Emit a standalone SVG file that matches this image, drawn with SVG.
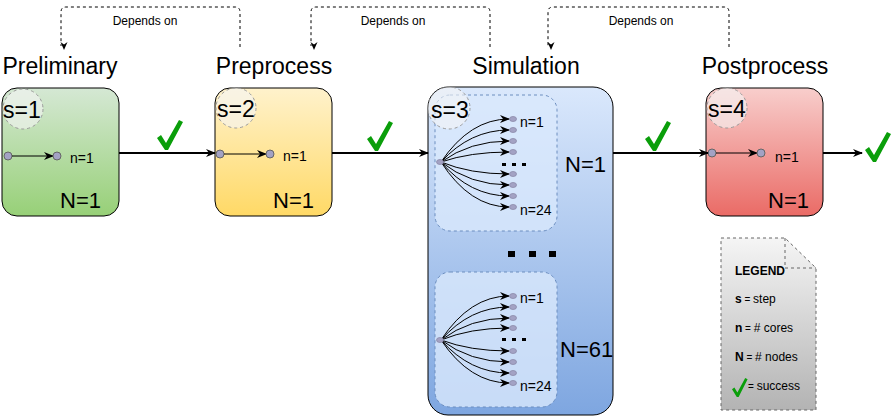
<svg xmlns="http://www.w3.org/2000/svg" width="891" height="418" viewBox="0 0 891 418">
<style>
text{font-family:"Liberation Sans",Arial,sans-serif;fill:#000}
.title{font-size:23px;text-anchor:middle}
.big{font-size:22px}
.s{font-size:23px}
.n{font-size:14px}
.nf{font-size:14px}
.dep{font-size:12px;text-anchor:middle}
.box{stroke:#000;stroke-width:1}
.circ{fill:#f5f5f5;fill-opacity:0.6;stroke:#999;stroke-dasharray:3,3}
.inner{fill:#dae8fc;fill-opacity:0.8;stroke:#6c8ebf;stroke-dasharray:3,3}
.dot{fill:#a3a2c4;stroke:#666;stroke-width:1}
.fdot{fill:#a3a2c4;stroke:#8a89a8;stroke-width:0.8}
.main{fill:none;stroke:#000;stroke-width:2;marker-end:url(#arr)}
.thin{fill:none;stroke:#000;stroke-width:1;marker-end:url(#arrs)}
.dash{fill:none;stroke:#000;stroke-width:1;stroke-dasharray:3,3;marker-end:url(#arrd)}
.chk{fill:#0a9e0a}
.lg{font-size:12px}
</style>
<defs>
<linearGradient id="gG" x1="0" y1="0" x2="0" y2="1"><stop offset="0" stop-color="#d5e8d4"/><stop offset="1" stop-color="#97d077"/></linearGradient>
<linearGradient id="gY" x1="0" y1="0" x2="0" y2="1"><stop offset="0" stop-color="#fff2cc"/><stop offset="1" stop-color="#ffd966"/></linearGradient>
<linearGradient id="gB" x1="0" y1="0" x2="0" y2="1"><stop offset="0" stop-color="#dae8fc"/><stop offset="1" stop-color="#7ea6e0"/></linearGradient>
<linearGradient id="gR" x1="0" y1="0" x2="0" y2="1"><stop offset="0" stop-color="#f8cecc"/><stop offset="1" stop-color="#ea6b66"/></linearGradient>
<linearGradient id="gL" x1="0" y1="0" x2="0" y2="1"><stop offset="0" stop-color="#f5f5f5"/><stop offset="1" stop-color="#b3b3b3"/></linearGradient>
<marker id="arr" markerWidth="10" markerHeight="10" refX="9" refY="5" orient="auto" markerUnits="userSpaceOnUse"><path d="M0,1 L10,5 L0,9 L3,5 Z" fill="#000"/></marker>
<marker id="arrs" markerWidth="10" markerHeight="8" refX="9" refY="4" orient="auto" markerUnits="userSpaceOnUse"><path d="M0,0 L10,4 L0,8 L3,4 Z" fill="#000"/></marker>
<marker id="arrd" markerWidth="8" markerHeight="8" refX="4" refY="7" orient="auto-start-reverse" markerUnits="userSpaceOnUse"><path d="M0.5,0 L4,8 L7.5,0 L4,2.5 Z" fill="#000" transform="rotate(-90 4 4)"/></marker>
<path id="check" d="M0,18 L4,15 L9,23 L22,0 L26,2 L11,30 L8,30 Z"/>
</defs>

<!-- titles -->
<text class="title" x="60" y="74">Preliminary</text>
<text class="title" x="274" y="74">Preprocess</text>
<text class="title" x="526" y="74">Simulation</text>
<text class="title" x="765" y="74">Postprocess</text>

<g id="preliminary">
<rect class="box" x="2" y="88" width="117" height="128" rx="15" fill="url(#gG)"/>
<circle class="circ" cx="23" cy="109" r="20"/>
<text class="s" x="3" y="118">s=1</text>
<circle class="dot" cx="8" cy="156" r="4"/>
<line x1="12" y1="156" x2="53" y2="156" class="thin"/>
<circle class="dot" cx="57" cy="156" r="4"/>
<text class="n" x="70" y="163">n=1</text>
<text class="big" x="60" y="208">N=1</text>
</g>

<g id="preprocess">
<rect class="box" x="215" y="88" width="117" height="128" rx="15" fill="url(#gY)"/>
<circle class="circ" cx="236" cy="108" r="20"/>
<text class="s" x="217" y="117">s=2</text>
<circle class="dot" cx="220" cy="154" r="4"/>
<line x1="224" y1="154" x2="266" y2="154" class="thin"/>
<circle class="dot" cx="270" cy="154" r="4"/>
<text class="n" x="283" y="161">n=1</text>
<text class="big" x="273" y="208">N=1</text>
</g>

<g id="simulation">
<rect class="box" x="428" y="87" width="185" height="328" rx="20" fill="url(#gB)"/>
<rect class="inner" x="435" y="95" width="122" height="136" rx="15"/>
<rect class="inner" x="435" y="272" width="122" height="135" rx="15"/>
<circle class="circ" cx="449" cy="108" r="21"/>
<text class="s" x="431" y="118">s=3</text>
<g fill="#000">
<rect x="508" y="251" width="7" height="6"/><rect x="529" y="251" width="7" height="6"/><rect x="549" y="251" width="7" height="6"/>
<rect x="502" y="163" width="4" height="3"/><rect x="512" y="163" width="4" height="3"/><rect x="522" y="163" width="4" height="3"/>
<rect x="502" y="338" width="4" height="3"/><rect x="512" y="338" width="4" height="3"/><rect x="522" y="338" width="4" height="3"/>
</g>
<g class="fan">
<path class="thin" d="M441,162 Q470,119 509,119"/>
<path class="thin" d="M441,162 Q470,130 509,130"/>
<path class="thin" d="M441,162 Q470,141 509,141"/>
<path class="thin" d="M441,162 Q470,152 509,152"/>
<path class="thin" d="M441,162 Q470,174 509,174"/>
<path class="thin" d="M441,162 Q470,185 509,185"/>
<path class="thin" d="M441,162 Q470,196 509,196"/>
<path class="thin" d="M441,162 Q470,207 509,207"/>
<path class="thin" d="M441,340 Q470,296 509,296"/>
<path class="thin" d="M441,340 Q470,307 509,307"/>
<path class="thin" d="M441,340 Q470,318 509,318"/>
<path class="thin" d="M441,340 Q470,328 509,328"/>
<path class="thin" d="M441,340 Q470,351 509,351"/>
<path class="thin" d="M441,340 Q470,362 509,362"/>
<path class="thin" d="M441,340 Q470,373 509,373"/>
<path class="thin" d="M441,340 Q470,383 509,383"/>
</g>
<g>
<ellipse class="fdot" cx="440" cy="162" rx="3.5" ry="2.5"/>
<ellipse class="fdot" cx="513" cy="119" rx="3.5" ry="2.5"/>
<ellipse class="fdot" cx="513" cy="130" rx="3.5" ry="2.5"/>
<ellipse class="fdot" cx="513" cy="141" rx="3.5" ry="2.5"/>
<ellipse class="fdot" cx="513" cy="152" rx="3.5" ry="2.5"/>
<ellipse class="fdot" cx="513" cy="174" rx="3.5" ry="2.5"/>
<ellipse class="fdot" cx="513" cy="185" rx="3.5" ry="2.5"/>
<ellipse class="fdot" cx="513" cy="196" rx="3.5" ry="2.5"/>
<ellipse class="fdot" cx="513" cy="207" rx="3.5" ry="2.5"/>
<ellipse class="fdot" cx="440" cy="340" rx="3.5" ry="2.5"/>
<ellipse class="fdot" cx="513" cy="296" rx="3.5" ry="2.5"/>
<ellipse class="fdot" cx="513" cy="307" rx="3.5" ry="2.5"/>
<ellipse class="fdot" cx="513" cy="318" rx="3.5" ry="2.5"/>
<ellipse class="fdot" cx="513" cy="328" rx="3.5" ry="2.5"/>
<ellipse class="fdot" cx="513" cy="351" rx="3.5" ry="2.5"/>
<ellipse class="fdot" cx="513" cy="362" rx="3.5" ry="2.5"/>
<ellipse class="fdot" cx="513" cy="373" rx="3.5" ry="2.5"/>
<ellipse class="fdot" cx="513" cy="383" rx="3.5" ry="2.5"/>
</g>
<text class="nf" x="520" y="127">n=1</text>
<text class="nf" x="520" y="215">n=24</text>
<text class="nf" x="520" y="303">n=1</text>
<text class="nf" x="520" y="391">n=24</text>
<text class="big" x="565" y="172">N=1</text>
<text class="big" x="560" y="357">N=61</text>
</g>

<g id="postprocess">
<rect class="box" x="706" y="88" width="117" height="128" rx="15" fill="url(#gR)"/>
<circle class="circ" cx="727" cy="108" r="20"/>
<text class="s" x="708" y="117">s=4</text>
<circle class="dot" cx="712" cy="153" r="4"/>
<line x1="716" y1="153" x2="757" y2="153" class="thin"/>
<circle class="dot" cx="761" cy="153" r="4"/>
<text class="n" x="775" y="162">n=1</text>
<text class="big" x="768" y="208">N=1</text>
</g>

<g id="legend">
<path d="M721,238 H785 L816,268 V410 H721 Z" fill="url(#gL)" stroke="#666" stroke-dasharray="3,3"/>
<path d="M785,238 V268 H816" fill="none" stroke="#666" stroke-dasharray="3,3"/>
<text class="lg" x="735" y="275" font-weight="bold">LEGEND</text>
<text class="lg" x="735" y="303"><tspan font-weight="bold">s</tspan><tspan font-size="10"> = </tspan>step</text>
<text class="lg" x="735" y="332"><tspan font-weight="bold">n</tspan><tspan font-size="10"> = </tspan># cores</text>
<text class="lg" x="735" y="361"><tspan font-weight="bold">N</tspan><tspan font-size="10"> = </tspan># nodes</text>
<use href="#check" class="chk" transform="translate(732,378) scale(0.6,0.63)"/>
<text class="lg" x="748" y="390"><tspan font-size="10">= </tspan>success</text>
</g>

<g id="connectors">
<path class="main" d="M119,153 H215"/>
<path class="main" d="M332,153 H428"/>
<path class="main" d="M613,153 H708"/>
<path class="main" d="M823,153 H862"/>
<path class="dash" d="M240,47 V12 Q240,7 235,7 H66 Q61,7 61,12 V46"/>
<path class="dash" d="M490,47 V12 Q490,7 485,7 H316 Q311,7 311,12 V46"/>
<path class="dash" d="M729,47 V12 Q729,7 724,7 H553 Q548,7 548,12 V46"/>
<text class="dep" x="145" y="25">Depends on</text>
<text class="dep" x="393" y="25">Depends on</text>
<text class="dep" x="641" y="25">Depends on</text>
<use href="#check" class="chk" transform="translate(157,120)"/>
<use href="#check" class="chk" transform="translate(367,121)"/>
<use href="#check" class="chk" transform="translate(645,121)"/>
<use href="#check" class="chk" transform="translate(865,132)"/>
</g>
</svg>
